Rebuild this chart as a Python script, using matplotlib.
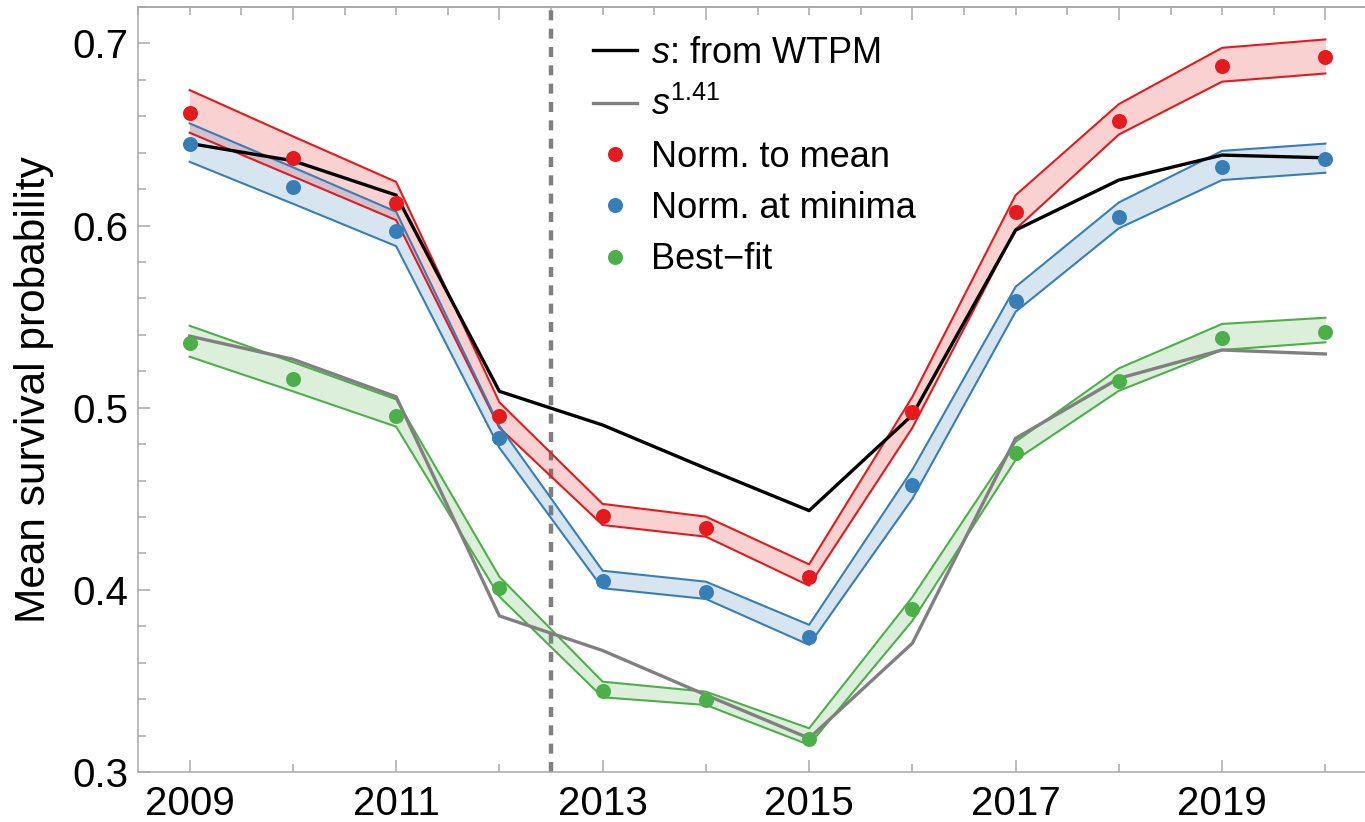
import matplotlib
matplotlib.use("Agg")
import matplotlib.pyplot as plt
from matplotlib.lines import Line2D
from matplotlib.ticker import MultipleLocator, FixedLocator
import numpy as np

plt.rcParams["font.family"] = ["Liberation Sans", "DejaVu Sans"]
plt.rcParams["mathtext.fontset"] = "custom"
plt.rcParams["mathtext.rm"] = "Liberation Sans"
plt.rcParams["mathtext.it"] = "Liberation Sans:italic"
plt.rcParams["lines.scale_dashes"] = False

# ---- data ----
years = [2009, 2010, 2011, 2012, 2013, 2014, 2015, 2016, 2017, 2018, 2019, 2020]

s_wtpm = [0.6451, 0.6356, 0.6167, 0.509, 0.4905, 0.4667, 0.4435, 0.496, 0.5975, 0.625, 0.6387, 0.6372]
s_pow = [0.5393, 0.5266, 0.506, 0.3857, 0.3667, 0.3423, 0.3185, 0.3707, 0.4832, 0.5161, 0.5317, 0.5295]

norm_mean = [0.6616, 0.6372, 0.6125, 0.4954, 0.4406, 0.4342, 0.4072, 0.4978, 0.6076, 0.6575, 0.6875, 0.6923]
norm_mean_hi = [0.6744, 0.649, 0.624, 0.503, 0.4472, 0.4402, 0.414, 0.506, 0.6167, 0.6667, 0.6976, 0.7022]
norm_mean_lo = [0.651, 0.627, 0.603, 0.489, 0.4356, 0.4292, 0.4023, 0.489, 0.598, 0.650, 0.679, 0.6835]

norm_min = [0.6447, 0.621, 0.597, 0.4832, 0.4049, 0.3989, 0.3743, 0.4576, 0.5586, 0.6045, 0.6323, 0.6365]
norm_min_hi = [0.6561, 0.632, 0.6076, 0.490, 0.4105, 0.4045, 0.3808, 0.466, 0.5664, 0.6127, 0.641, 0.645]
norm_min_lo = [0.635, 0.612, 0.5887, 0.478, 0.4009, 0.395, 0.3698, 0.450, 0.5527, 0.5985, 0.625, 0.629]

best_fit = [0.5357, 0.5157, 0.4956, 0.4012, 0.3447, 0.3396, 0.3182, 0.3894, 0.4753, 0.5148, 0.5381, 0.5417]
best_fit_hi = [0.545, 0.525, 0.5046, 0.4072, 0.3496, 0.3441, 0.324, 0.396, 0.4813, 0.5216, 0.546, 0.5494]
best_fit_lo = [0.528, 0.509, 0.4896, 0.3963, 0.341, 0.3368, 0.3149, 0.383, 0.4713, 0.5093, 0.5317, 0.5359]

split_year = 2012.5

RED = "#E41A1C"
BLUE = "#377EB8"
GREEN = "#4DAF4A"
GRAY = "#808080"
AXC = "#A8A8A8"

W, H = 1365, 822
fig = plt.figure(figsize=(W / 100, H / 100), dpi=100)
ax = fig.add_axes([138 / W, 50 / H, (1377 - 138) / W, (772 - 7) / H])

ax.axvline(split_year, color=GRAY, lw=3.2, dashes=(7.2, 6.0), zorder=1)

for mid, lo, hi, c in [(norm_mean, norm_mean_lo, norm_mean_hi, RED),
                       (norm_min, norm_min_lo, norm_min_hi, BLUE),
                       (best_fit, best_fit_lo, best_fit_hi, GREEN)]:
    ax.fill_between(years, lo, hi, color=c, alpha=0.2, lw=0, zorder=2)
    ax.plot(years, lo, color=c, lw=1.5, zorder=3)
    ax.plot(years, hi, color=c, lw=1.5, zorder=3)

ax.plot(years, s_wtpm, color="black", lw=2.4, zorder=4)
ax.plot(years, s_pow, color=GRAY, lw=2.4, zorder=4)

for vals, c in [(norm_mean, RED), (norm_min, BLUE), (best_fit, GREEN)]:
    ax.plot(years, vals, "o", color=c, ms=10.8, mew=0, zorder=5)

ax.set_xlim(2008.5, 2020.5)
ax.set_ylim(0.3, 0.72)

ax.xaxis.set_major_locator(FixedLocator([2009, 2011, 2013, 2015, 2017, 2019]))
ax.xaxis.set_minor_locator(FixedLocator([2010, 2012, 2014, 2016, 2018, 2020]))
ax.yaxis.set_major_locator(FixedLocator([0.3, 0.4, 0.5, 0.6, 0.7]))
ax.yaxis.set_minor_locator(MultipleLocator(0.02))
ax.set_yticklabels(["0.3", "0.4", "0.5", "0.6", "0.7"])

ax.tick_params(axis="both", which="both", direction="in", color=AXC, width=1.1,
               labelsize=29, labelcolor="black")
ax.tick_params(axis="both", which="major", length=8.6)
ax.tick_params(axis="both", which="minor", length=5.6)
ax.tick_params(axis="x", which="both", top=False, pad=9)
ax.tick_params(axis="y", which="both", right=True, pad=7)

top = ax.secondary_xaxis("top")
top.xaxis.set_major_locator(FixedLocator([2010, 2012, 2014, 2016, 2018, 2020]))
top.xaxis.set_minor_locator(MultipleLocator(0.5))
top.tick_params(axis="x", which="both", direction="in", color=AXC, width=1.1, labeltop=False)
top.tick_params(axis="x", which="major", length=9.4)
top.tick_params(axis="x", which="minor", length=5.6)
top.spines["top"].set_color(AXC)
top.spines["top"].set_linewidth(1.1)

for sp in ax.spines.values():
    sp.set_color(AXC)
    sp.set_linewidth(1.1)

ax.set_ylabel("Mean survival probability", fontsize=30.5, labelpad=13)

handles = [
    Line2D([], [], color="black", lw=2.4),
    Line2D([], [], color=GRAY, lw=2.4),
    Line2D([], [], color=RED, marker="o", ls="none", ms=10.8, mew=0),
    Line2D([], [], color=BLUE, marker="o", ls="none", ms=10.8, mew=0),
    Line2D([], [], color=GREEN, marker="o", ls="none", ms=10.8, mew=0),
]
labels = [r"$s$: from WTPM", r"$s^{1.41}$", "Norm. to mean", "Norm. at minima", "Best\u2212fit"]
leg = fig.legend(handles, labels, loc="upper left", bbox_to_anchor=(593 / W, 1 - 36 / H),
                 frameon=False, fontsize=26, handlelength=1.23, handletextpad=0.38,
                 labelspacing=0.45, borderpad=0, borderaxespad=0)

fig.savefig("out.png", dpi=100)
